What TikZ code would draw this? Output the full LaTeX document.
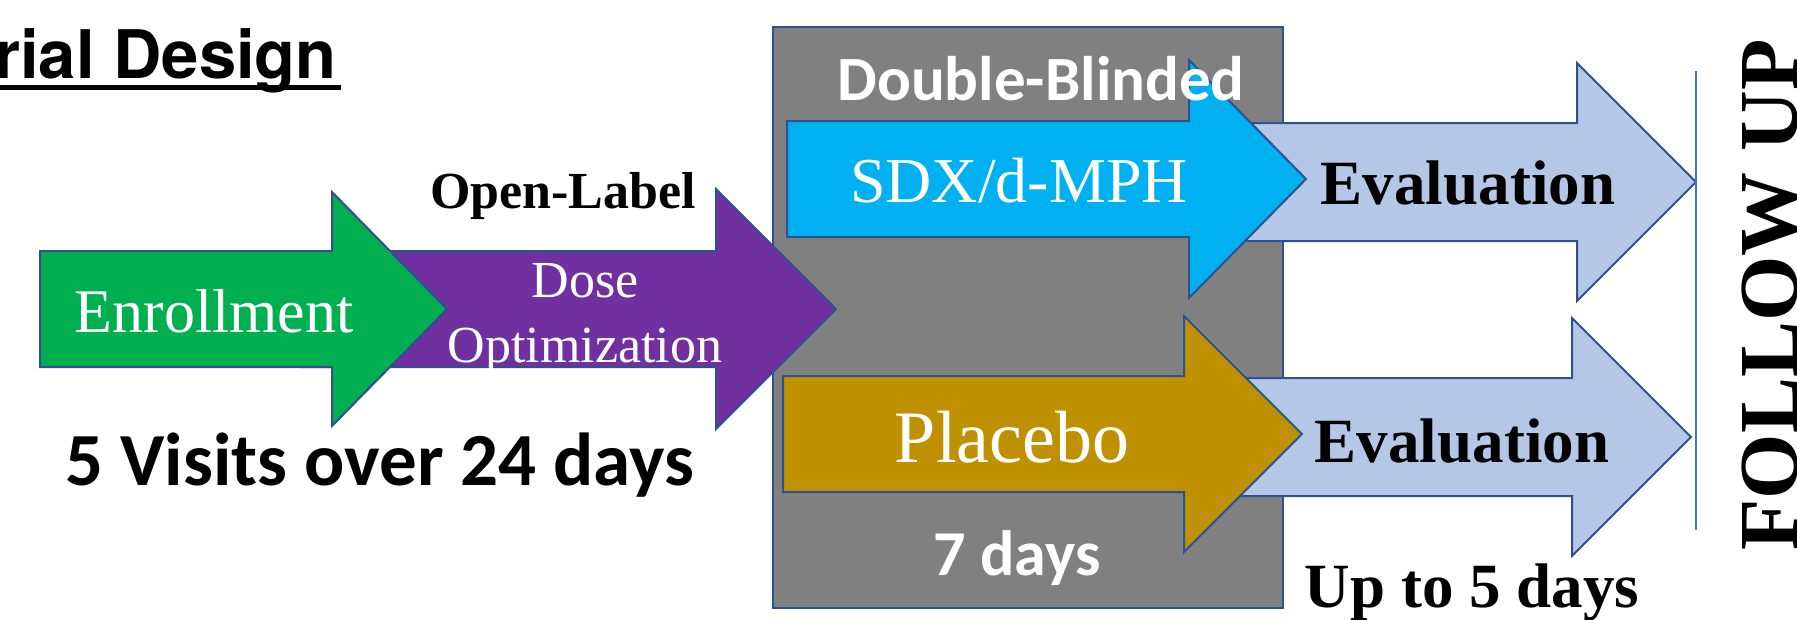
\documentclass[tikz,border=0pt]{standalone}
\usepackage{fontspec}
\setmainfont{Liberation Serif}
\newfontfamily\calibrifont{Carlito}
\newfontfamily\headfont{TeX Gyre Heros}

\definecolor{edge}{HTML}{2F528F}
\definecolor{enrollgreen}{HTML}{00B050}
\definecolor{dosepurple}{HTML}{7030A0}
\definecolor{drugcyan}{HTML}{00B0F0}
\definecolor{placebogold}{HTML}{BF9000}
\definecolor{evalblue}{HTML}{B4C7E7}
\definecolor{blindgray}{HTML}{808080}
\definecolor{followline}{HTML}{4472C4}

% block arrow: style, left x, centre y, shaft half-height, head half-height, head base x, tip x
\newcommand\blockarrow[7]{%
  \draw[#1] (#2,#3-#4) -- (#6,#3-#4) -- (#6,#3-#5) -- (#7,#3)
        -- (#6,#3+#5) -- (#6,#3+#4) -- (#2,#3+#4) -- cycle;}

\tikzset{
  shape line/.style={draw=edge, line width=2pt, line join=miter},
  txt/.style={inner sep=0pt, anchor=base},
  white serif/.style={txt, text=white, font=\fontsize{#1}{#1}\selectfont},
  bold serif/.style={txt, text=black, font=\fontsize{#1}{#1}\selectfont\bfseries},
  bold sans/.style={txt, font=\calibrifont\fontsize{#1}{#1}\selectfont\bfseries},
}

\begin{document}
\begin{tikzpicture}[x=1pt, y=-1pt]
\useasboundingbox (0,0) rectangle (1797,619);
\clip (0,0) rectangle (1797,619);

% title
\node[txt, anchor=base east, font=\headfont\fontsize{67}{67}\selectfont\bfseries] (title) at (337,78) {Trial Design};
\draw[line width=5pt] (0,87.5) -- (341,87.5);

% double-blinded phase box
\draw[shape line, fill=blindgray] (773,27) rectangle (1283,608);

% open-label phase
\blockarrow{shape line, fill=dosepurple}{300}{309}{58}{120}{716}{836}
\blockarrow{shape line, fill=enrollgreen}{40}{309}{58}{117}{332}{447}

% evaluation arrows
\blockarrow{shape line, fill=evalblue}{1200}{182}{59}{119}{1577}{1696}
\blockarrow{shape line, fill=evalblue}{1195}{437}{59}{119}{1572}{1691}

% treatment arms
\blockarrow{shape line, fill=drugcyan}{787}{179}{58}{119}{1189}{1306}
\blockarrow{shape line, fill=placebogold}{783}{434}{58}{118}{1184}{1302}

% follow-up divider
\draw[followline, line width=1.5pt] (1696,71) -- (1696,530);

% labels
\node[white serif=62] (enroll) at (214,332) {Enrollment};
\node[white serif=52] (dose) at (585,297) {Dose};
\node[white serif=52] (optim) at (585,362) {Optimization};
\node[bold serif=52] (openlabel) at (563,208) {Open-Label};
\node[bold sans=75] (visits) at (380,485) {5 Visits over 24 days};

\node[bold sans=63, text=white] (blinded) at (1041,100) {Double-Blinded};
\node[white serif=64] (drug) at (1019,202) {SDX/d-MPH};
\node[white serif=74] (placebo) at (1012,462) {Placebo};
\node[bold sans=64, text=white] (sevendays) at (1017,575) {7 days};

\node[bold serif=63] (evalA) at (1468,204) {Evaluation};
\node[bold serif=63] (evalB) at (1462,462) {Evaluation};
\node[bold serif=63] (fivedays) at (1472,607) {Up to 5 days};

\node[bold serif=84, rotate=90] (followup) at (1797,295) {FOLLOW UP};
\end{tikzpicture}
\end{document}
